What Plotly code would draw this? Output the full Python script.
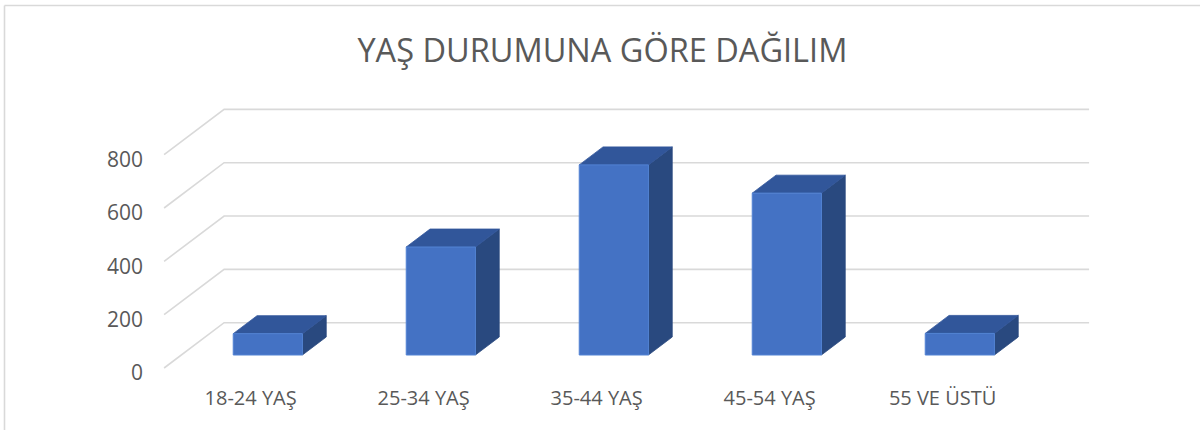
import plotly.graph_objects as go

# ---------------- data ----------------
categories = ["18-24 YAŞ", "25-34 YAŞ", "35-44 YAŞ", "45-54 YAŞ", "55 VE ÜSTÜ"]
values = [80, 405, 713, 607, 81]
y_ticks = [0, 200, 400, 600, 800]
title_text = "YAŞ DURUMUNA GÖRE DAĞILIM"

# ---------------- layout constants (pixels) ----------------
W, H = 1200, 430
L, R, T, B = 150, 1100, 95, 382          # plot area in page pixels
CAT0_PX, CAT_PX = 250.6, 173.0           # front-plane px of first category, px per category
ZERO_PX, PX_PER_UNIT = 368.0, 53.33 / 200  # front-plane px of value 0, px per value unit
DEPTH_PX = (60.0, 45.3)                  # full floor depth vector (right, up) in px
BAR_FRONT, BAR_BACK = 0.287, 0.684       # bar depth position as fraction of floor depth
BAR_W = 0.40                             # bar width in category units

TEXT = "#595959"
GRID = "#d9d9d9"
C_FRONT, C_TOP, C_SIDE = "#4472C4", "#31569A", "#29497F"
FONT = "Open Sans"

x_range = [(L - CAT0_PX) / CAT_PX, (R - CAT0_PX) / CAT_PX]
y_range = [(ZERO_PX - B) / PX_PER_UNIT, (ZERO_PX - T) / PX_PER_UNIT]
DX = DEPTH_PX[0] / CAT_PX
DV = DEPTH_PX[1] / PX_PER_UNIT

fig = go.Figure()

# ---------------- walls' gridlines (side + back) ----------------
n = len(categories)
gx, gy = [], []
for v in y_ticks:
    gx += [-0.5, -0.5 + DX, n - 0.5 + DX, None]
    gy += [v, v + DV, v + DV, None]
fig.add_trace(go.Scatter(x=gx, y=gy, mode="lines", line=dict(color=GRID, width=1.6),
                         hoverinfo="skip", showlegend=False))

# ---------------- 3D bars ----------------
f0x, f0v = BAR_FRONT * DX, BAR_FRONT * DV
ddx, ddv = (BAR_BACK - BAR_FRONT) * DX, (BAR_BACK - BAR_FRONT) * DV
for i, (cat, v) in enumerate(zip(categories, values)):
    xl = i - BAR_W / 2 + f0x
    xr = i + BAR_W / 2 + f0x
    yb = f0v
    yt = v + f0v
    # side face
    fig.add_trace(go.Scatter(
        x=[xr, xr + ddx, xr + ddx, xr, xr], y=[yb, yb + ddv, yt + ddv, yt, yb],
        mode="lines", fill="toself", fillcolor=C_SIDE, line=dict(color=C_SIDE, width=0.8),
        hoverinfo="skip", showlegend=False))
    # top face
    fig.add_trace(go.Scatter(
        x=[xl, xr, xr + ddx, xl + ddx, xl], y=[yt, yt, yt + ddv, yt + ddv, yt],
        mode="lines", fill="toself", fillcolor=C_TOP, line=dict(color=C_TOP, width=0.8),
        hoverinfo="skip", showlegend=False))
    # front face
    fig.add_trace(go.Scatter(
        x=[xl, xr, xr, xl, xl], y=[yb, yb, yt, yt, yb],
        mode="lines", fill="toself", fillcolor=C_FRONT, line=dict(color="#5283D4", width=1),
        name=cat, hovertemplate=f"{cat}: {v}<extra></extra>", showlegend=False))

# ---------------- chart border (top & left) ----------------
def px2paper_x(px):
    return (px - L) / (R - L)

def px2paper_y(py):
    return (B - py) / (B - T)

shapes = [
    dict(type="line", xref="paper", yref="paper",
         x0=px2paper_x(4.5), x1=px2paper_x(1205), y0=px2paper_y(5.5), y1=px2paper_y(5.5),
         line=dict(color=GRID, width=1.6)),
    dict(type="line", xref="paper", yref="paper",
         x0=px2paper_x(4.5), x1=px2paper_x(4.5), y0=px2paper_y(5.5), y1=px2paper_y(435),
         line=dict(color=GRID, width=1.6)),
]

fig.update_layout(
    width=W, height=H,
    margin=dict(l=L, r=W - R, t=T, b=H - B, pad=0),
    paper_bgcolor="white", plot_bgcolor="white",
    title=dict(text=title_text, x=0.502, xref="container", xanchor="center",
               y=1 - 51 / H, yref="container", yanchor="middle",
               font=dict(family=FONT, size=32.5, color=TEXT)),
    xaxis=dict(range=x_range, tickmode="array", tickvals=list(range(n)), ticktext=categories,
               showgrid=False, zeroline=False, showline=False, ticks="",
               ticklabelstandoff=2,
               tickfont=dict(family=FONT, size=20, color=TEXT), fixedrange=True),
    yaxis=dict(range=y_range, tickmode="array", tickvals=y_ticks,
               ticktext=[str(t) for t in y_ticks],
               showgrid=False, zeroline=False, showline=False, ticks="",
               ticklabelstandoff=6, ticklabelshift=5,
               tickfont=dict(family=FONT, size=21, color=TEXT), fixedrange=True),
    shapes=shapes,
    showlegend=False,
)

fig.write_html("out.html", config={"displayModeBar": False},
               post_script="document.body.style.margin='0';")
